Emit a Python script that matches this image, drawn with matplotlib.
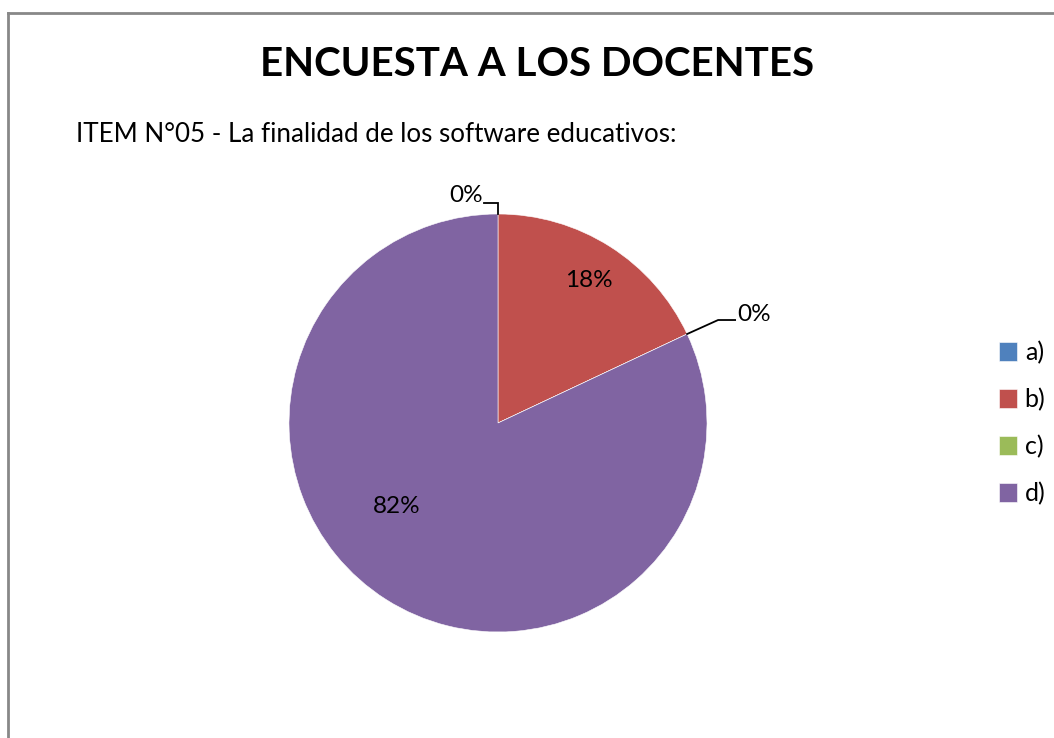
import numpy as np
import matplotlib.pyplot as plt

# Data
categories = ['a)', 'b)', 'c)', 'd)']
percentages = [0, 18, 0, 82]
colors = ['#4F81BD', '#C0504D', '#9BBB59', '#8064A2']

TITLE = 'ENCUESTA A LOS DOCENTES'
SUBTITLE = 'ITEM N°05 - La finalidad de los software educativos:'

W, H = 1054, 738
DPI = 100
CENTER = (498, H - 423)
RADIUS = 209
LABEL_SIZE = 17.5

plt.rcParams['font.family'] = ['Lato', 'DejaVu Sans']

fig = plt.figure(figsize=(W / DPI, H / DPI), dpi=DPI)
ax = fig.add_axes([0, 0, 1, 1])

wedges, _ = ax.pie(percentages, colors=colors, startangle=90, counterclock=False,
                   center=CENTER, radius=RADIUS,
                   wedgeprops=dict(edgecolor='white', linewidth=0.4))
ax.set_xlim(0, W)
ax.set_ylim(0, H)
ax.set_aspect('equal')
ax.axis('off')

# label placement (angle offset from wedge middle in deg, radius fraction)
label_style = {1: (0, 0.81), 3: (-18, 0.63)}
for i, (w, p) in enumerate(zip(wedges, percentages)):
    mid = np.deg2rad(0.5 * (w.theta1 + w.theta2))
    if p > 0:
        off, frac = label_style[i]
        ang = mid + np.deg2rad(off)
        x = CENTER[0] + frac * RADIUS * np.cos(ang)
        y = CENTER[1] + frac * RADIUS * np.sin(ang)
        ax.text(x, y, f'{p}%', ha='center', va='center', fontsize=LABEL_SIZE)
    else:
        x0 = CENTER[0] + RADIUS * np.cos(mid)
        y0 = CENTER[1] + RADIUS * np.sin(mid)
        if np.cos(mid) < 0.3:
            # top label: short rise, then left
            xs = [x0, x0, x0 - 14]
            ys = [y0, y0 + 11, y0 + 11]
            ax.plot(xs, ys, color='black', lw=1.3, solid_joinstyle='miter')
            ax.text(xs[-1] - 1, ys[-1] + 7, f'{p}%', ha='right', va='center', fontsize=LABEL_SIZE)
        else:
            xs = [x0, x0 + 31, x0 + 48]
            ys = [y0, y0 + 14, y0 + 14]
            ax.plot(xs, ys, color='black', lw=1.3)
            ax.text(xs[-1] + 2, ys[-1] + 6, f'{p}%', ha='left', va='center', fontsize=LABEL_SIZE)

fig.text(537 / W, 1 - 64 / H, TITLE, ha='center', va='center',
         fontsize=29, fontweight='bold')
fig.text(76 / W, 1 - 134 / H, SUBTITLE, ha='left', va='center', fontsize=18.7)

ax.legend(wedges, categories, loc='center left', bbox_to_anchor=(986 / W, 1 - 423 / H),
          frameon=False, fontsize=18, handlelength=0.75, handleheight=0.75,
          handletextpad=0.3, labelspacing=0.95, borderpad=0)

# chart border
border_kw = dict(color='#888888', lw=2)
fig.add_artist(plt.Line2D([8 / W, 1.0], [1 - 13 / H, 1 - 13 / H], transform=fig.transFigure, **border_kw))
fig.add_artist(plt.Line2D([8 / W, 8 / W], [1 - 13 / H, 0], transform=fig.transFigure, **border_kw))

fig.savefig('out.png', dpi=DPI)
